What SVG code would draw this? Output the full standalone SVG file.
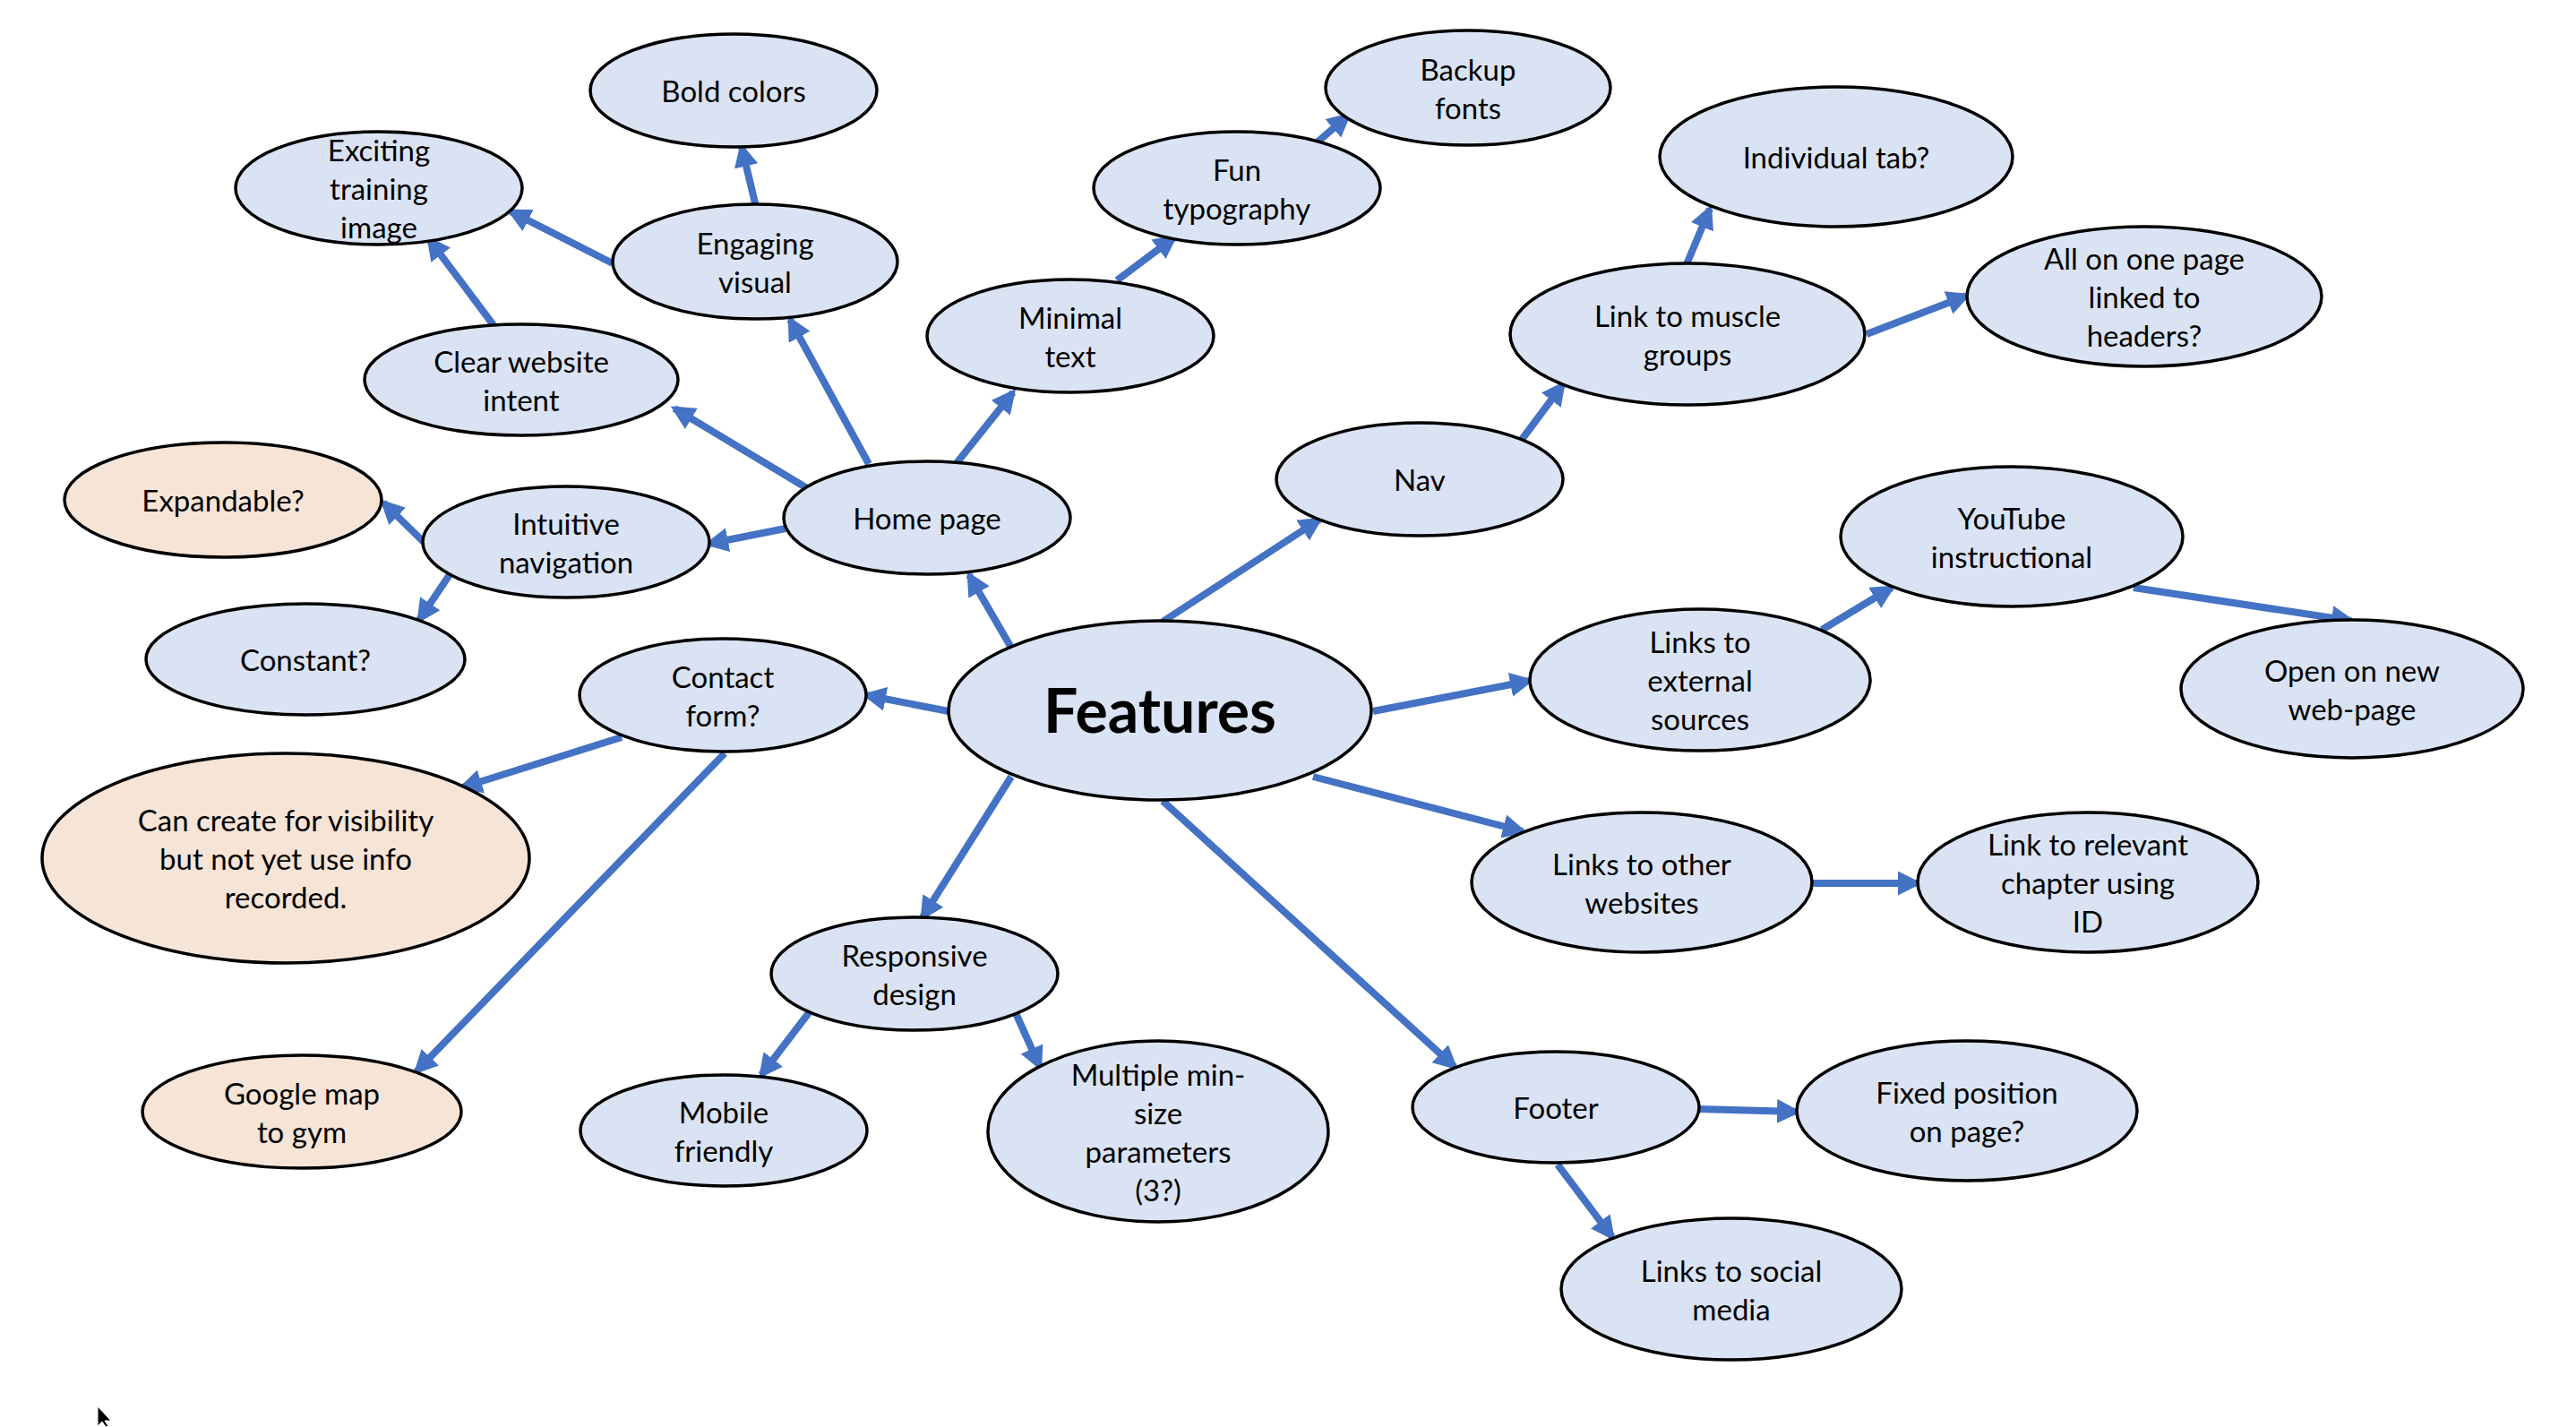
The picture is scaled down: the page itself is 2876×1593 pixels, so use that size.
<svg xmlns="http://www.w3.org/2000/svg" width="2876" height="1593" viewBox="0 0 2876 1593">
<style>
.n{fill:#DAE3F3;stroke:#000;stroke-width:3.5}
.o{fill:#F6E4D6;stroke:#000;stroke-width:3.5}
.t{font-family:Lato,"Open Sans","Liberation Sans",sans-serif;font-size:33px;fill:#000;text-anchor:middle}
.big{font-family:Lato,"Open Sans","Liberation Sans",sans-serif;font-size:68px;font-weight:bold;fill:#000;text-anchor:middle}
.c line{stroke:#4472C4;stroke-width:8;marker-end:url(#ah)}
</style>
<defs>
<marker id="ah" markerUnits="userSpaceOnUse" markerWidth="28" markerHeight="28" refX="22" refY="13.5" orient="auto" viewBox="0 0 28 28">
<path d="M0,0 L27,13.5 L0,27 z" fill="#4472C4"/>
</marker>
</defs>
<rect width="2876" height="1593" fill="#fff"/>
<g class="c" id="connectors">
<line x1="1129" y1="723" x2="1082" y2="642"/>
<line x1="1298" y1="694" x2="1473" y2="580"/>
<line x1="1533" y1="794" x2="1708" y2="760"/>
<line x1="1466" y1="867" x2="1700" y2="928"/>
<line x1="1298" y1="894" x2="1624" y2="1191"/>
<line x1="1129" y1="867" x2="1030" y2="1024"/>
<line x1="1059" y1="794" x2="967" y2="776"/>
<line x1="1068" y1="517" x2="1131" y2="438"/>
<line x1="970" y1="518" x2="882" y2="357"/>
<line x1="901" y1="545" x2="753" y2="456"/>
<line x1="882" y1="589" x2="791" y2="607"/>
<line x1="475" y1="607" x2="428" y2="561"/>
<line x1="503" y1="640" x2="468" y2="692"/>
<line x1="551" y1="363" x2="479" y2="267"/>
<line x1="684" y1="294" x2="570" y2="236"/>
<line x1="844" y1="231" x2="828" y2="164"/>
<line x1="1247" y1="313" x2="1311" y2="265"/>
<line x1="1467" y1="162" x2="1505" y2="129"/>
<line x1="1698" y1="492" x2="1745" y2="429"/>
<line x1="1883" y1="295" x2="1909" y2="233"/>
<line x1="2084" y1="373" x2="2196" y2="330"/>
<line x1="2034" y1="703" x2="2112" y2="656"/>
<line x1="2382" y1="656" x2="2625" y2="693"/>
<line x1="2023" y1="986" x2="2141" y2="986"/>
<line x1="1896" y1="1238" x2="2006" y2="1241"/>
<line x1="1739" y1="1300" x2="1800" y2="1381"/>
<line x1="1134" y1="1131" x2="1161" y2="1191"/>
<line x1="905" y1="1128" x2="850" y2="1200"/>
<line x1="694" y1="823" x2="516" y2="879"/>
<line x1="809" y1="841" x2="465" y2="1196"/>
</g>
<g id="features"><ellipse class="n" cx="1295" cy="793" rx="236" ry="100"/><text class="big" x="1295" y="818">Features</text></g>
<g id="home"><ellipse class="n" cx="1035" cy="578" rx="160" ry="63"/><text class="t" x="1035" y="591">Home page</text></g>
<g id="intuitive"><ellipse class="n" cx="632" cy="605" rx="160" ry="62"/><text class="t" x="632" y="597">Intuitive<tspan x="632" dy="43">navigation</tspan></text></g>
<g id="expandable"><ellipse class="o" cx="249" cy="558" rx="177" ry="64"/><text class="t" x="249" y="571">Expandable?</text></g>
<g id="constant"><ellipse class="n" cx="341" cy="736" rx="178" ry="62"/><text class="t" x="341" y="749">Constant?</text></g>
<g id="clear"><ellipse class="n" cx="582" cy="424" rx="175" ry="62"/><text class="t" x="582" y="416">Clear website<tspan x="582" dy="43">intent</tspan></text></g>
<g id="exciting"><ellipse class="n" cx="423" cy="210" rx="160" ry="63"/><text class="t" x="423" y="180">Exciting<tspan x="423" dy="43">training</tspan><tspan x="423" dy="43">image</tspan></text></g>
<g id="engaging"><ellipse class="n" cx="843" cy="292" rx="159" ry="64"/><text class="t" x="843" y="284">Engaging<tspan x="843" dy="43">visual</tspan></text></g>
<g id="bold"><ellipse class="n" cx="819" cy="101" rx="160" ry="63"/><text class="t" x="819" y="114">Bold colors</text></g>
<g id="minimal"><ellipse class="n" cx="1195" cy="375" rx="160" ry="63"/><text class="t" x="1195" y="367">Minimal<tspan x="1195" dy="43">text</tspan></text></g>
<g id="fun"><ellipse class="n" cx="1381" cy="210" rx="160" ry="63"/><text class="t" x="1381" y="202">Fun<tspan x="1381" dy="43">typography</tspan></text></g>
<g id="backup"><ellipse class="n" cx="1639" cy="98" rx="159" ry="64"/><text class="t" x="1639" y="90">Backup<tspan x="1639" dy="43">fonts</tspan></text></g>
<g id="nav"><ellipse class="n" cx="1585" cy="535" rx="160" ry="63"/><text class="t" x="1585" y="548">Nav</text></g>
<g id="muscle"><ellipse class="n" cx="1884" cy="373" rx="198" ry="79"/><text class="t" x="1884" y="365">Link to muscle<tspan x="1884" dy="43">groups</tspan></text></g>
<g id="individual"><ellipse class="n" cx="2050" cy="175" rx="197" ry="78"/><text class="t" x="2050" y="188">Individual tab?</text></g>
<g id="allone"><ellipse class="n" cx="2394" cy="331" rx="198" ry="78"/><text class="t" x="2394" y="301">All on one page<tspan x="2394" dy="43">linked to</tspan><tspan x="2394" dy="43">headers?</tspan></text></g>
<g id="external"><ellipse class="n" cx="1898" cy="759" rx="190" ry="79"/><text class="t" x="1898" y="729">Links to<tspan x="1898" dy="43">external</tspan><tspan x="1898" dy="43">sources</tspan></text></g>
<g id="youtube"><ellipse class="n" cx="2246" cy="599" rx="191" ry="78"/><text class="t" x="2246" y="591">YouTube<tspan x="2246" dy="43">instructional</tspan></text></g>
<g id="opennew"><ellipse class="n" cx="2626" cy="769" rx="191" ry="77"/><text class="t" x="2626" y="761">Open on new<tspan x="2626" dy="43">web-page</tspan></text></g>
<g id="other"><ellipse class="n" cx="1833" cy="985" rx="190" ry="78"/><text class="t" x="1833" y="977">Links to other<tspan x="1833" dy="43">websites</tspan></text></g>
<g id="relevant"><ellipse class="n" cx="2331" cy="985" rx="190" ry="78"/><text class="t" x="2331" y="955">Link to relevant<tspan x="2331" dy="43">chapter using</tspan><tspan x="2331" dy="43">ID</tspan></text></g>
<g id="footer"><ellipse class="n" cx="1737" cy="1236" rx="160" ry="62"/><text class="t" x="1737" y="1249">Footer</text></g>
<g id="fixed"><ellipse class="n" cx="2196" cy="1240" rx="190" ry="78"/><text class="t" x="2196" y="1232">Fixed position<tspan x="2196" dy="43">on page?</tspan></text></g>
<g id="social"><ellipse class="n" cx="1933" cy="1439" rx="190" ry="79"/><text class="t" x="1933" y="1431">Links to social<tspan x="1933" dy="43">media</tspan></text></g>
<g id="responsive"><ellipse class="n" cx="1021" cy="1087" rx="160" ry="63"/><text class="t" x="1021" y="1079">Responsive<tspan x="1021" dy="43">design</tspan></text></g>
<g id="mobile"><ellipse class="n" cx="808" cy="1262" rx="160" ry="62"/><text class="t" x="808" y="1254">Mobile<tspan x="808" dy="43">friendly</tspan></text></g>
<g id="multiple"><ellipse class="n" cx="1293" cy="1263" rx="190" ry="101"/><text class="t" x="1293" y="1212">Multiple min-<tspan x="1293" dy="43">size</tspan><tspan x="1293" dy="43">parameters</tspan><tspan x="1293" dy="43">(3?)</tspan></text></g>
<g id="contact"><ellipse class="n" cx="807" cy="776" rx="160" ry="63"/><text class="t" x="807" y="768">Contact<tspan x="807" dy="43">form?</tspan></text></g>
<g id="cancreate"><ellipse class="o" cx="319" cy="958" rx="272" ry="117"/><text class="t" x="319" y="928">Can create for visibility<tspan x="319" dy="43">but not yet use info</tspan><tspan x="319" dy="43">recorded.</tspan></text></g>
<g id="google"><ellipse class="o" cx="337" cy="1241" rx="178" ry="63"/><text class="t" x="337" y="1233">Google map<tspan x="337" dy="43">to gym</tspan></text></g>
<path d="M109,1570 L109,1592 L114,1587 L118,1593 L121,1592 L117,1586 L124,1586 Z" fill="#000" stroke="#fff" stroke-width="1"/>
</svg>
